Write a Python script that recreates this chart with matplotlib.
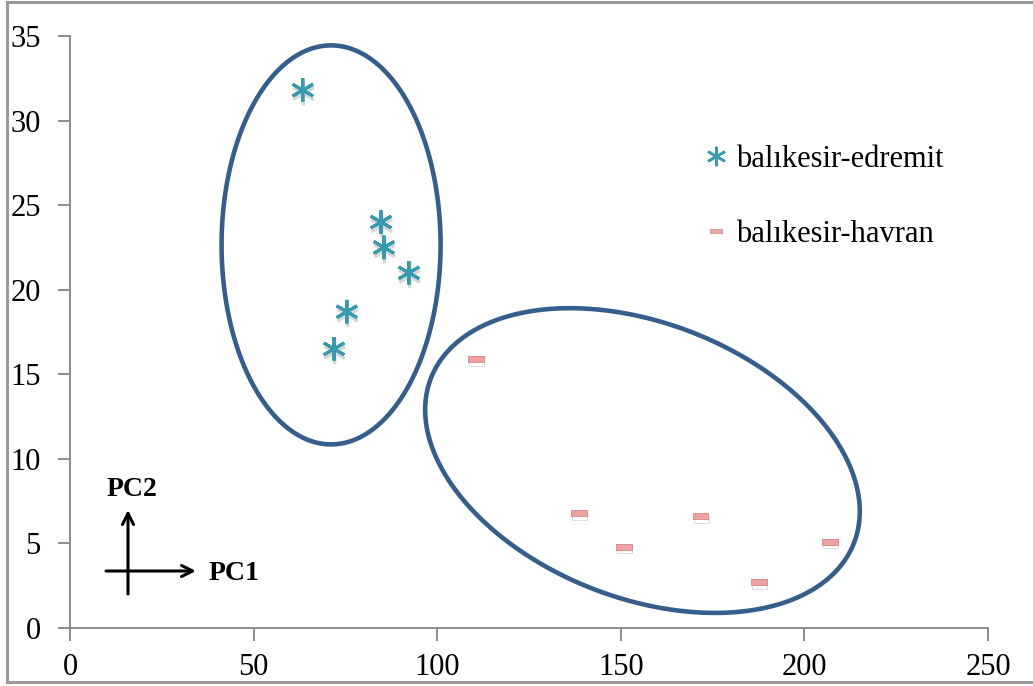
import matplotlib.pyplot as plt
import matplotlib.patheffects as pe
import numpy as np
from matplotlib.lines import Line2D
from matplotlib.patches import Polygon

plt.rcParams["font.family"] = ["Liberation Serif", "DejaVu Serif"]

# PCA scores
edremit_pc1 = [63.4, 84.7, 85.5, 92.3, 75.4, 71.9]
edremit_pc2 = [31.8, 24.0, 22.5, 21.0, 18.7, 16.5]
havran_pc1 = [110.6, 138.6, 150.9, 171.8, 187.6, 207.0]
havran_pc2 = [15.9, 6.8, 4.8, 6.6, 2.7, 5.1]

labels = ["balıkesir-edremit", "balıkesir-havran"]
xticks = [0, 50, 100, 150, 200, 250]
yticks = [0, 5, 10, 15, 20, 25, 30, 35]

EDREMIT_COLOR = "#3a9aad"
HAVRAN_FACE = "#eda3a2"
HAVRAN_EDGE = "#d98584"
RING_COLOR = "#365e8d"
AXIS_GRAY = "#8c8c8c"

# flat dash used for the havran group
dash = [(-1, -0.4), (1, -0.4), (1, 0.4), (-1, 0.4), (-1, -0.4)]
star = (6, 2, 0)
shadow = [pe.SimpleLineShadow(offset=(0.5, -2.5), shadow_color="gray",
                              alpha=0.3), pe.Normal()]

W, H = 1033, 686
fig = plt.figure(figsize=(W / 100, H / 100), dpi=100)
ax = fig.add_axes([70 / W, 1 - 628 / H, 918 / W, 592 / H])

ax.plot(edremit_pc1, edremit_pc2, linestyle="none", marker=star,
        markersize=17, markeredgewidth=2.2, color=EDREMIT_COLOR,
        path_effects=shadow)
ax.plot(havran_pc1, havran_pc2, linestyle="none", marker=dash,
        markersize=11, markerfacecolor=HAVRAN_FACE,
        markeredgecolor=HAVRAN_EDGE, markeredgewidth=0.6,
        path_effects=shadow)

ax.set_xlim(0, 250)
ax.set_ylim(0, 35)
ax.set_xticks(xticks)
ax.set_yticks(yticks)
ax.tick_params(axis="both", labelsize=22, color=AXIS_GRAY, length=9,
               width=1.4, direction="out")
ax.tick_params(axis="y", pad=12)
ax.tick_params(axis="x", pad=9)
for side in ("top", "right"):
    ax.spines[side].set_visible(False)
for side in ("left", "bottom"):
    ax.spines[side].set_color(AXIS_GRAY)
    ax.spines[side].set_linewidth(1.4)


def ring(center_data, a_px, b_px, angle_deg):
    """Ellipse drawn in screen pixels so it keeps its shape, mapped back to data."""
    cx, cy = ax.transData.transform(center_data)
    t = np.linspace(0, 2 * np.pi, 400, endpoint=False)
    th = np.deg2rad(angle_deg)
    px = cx + a_px * np.cos(t) * np.cos(th) - b_px * np.sin(t) * np.sin(th)
    py = cy + a_px * np.cos(t) * np.sin(th) + b_px * np.sin(t) * np.cos(th)
    pts = ax.transData.inverted().transform(np.column_stack([px, py]))
    ax.add_patch(Polygon(pts, closed=True, fill=False, edgecolor=RING_COLOR,
                         linewidth=3.3, clip_on=False))


ring((71.1, 22.65), 109.5, 199.5, 0)
ring((155.9, 9.9), 227, 137.5, -21.3)

handles = [
    Line2D([], [], linestyle="none", marker=star, markersize=14,
           markeredgewidth=1.8, color=EDREMIT_COLOR),
    Line2D([], [], linestyle="none", marker=dash, markersize=8,
           markerfacecolor=HAVRAN_FACE, markeredgecolor=HAVRAN_EDGE,
           markeredgewidth=0.5),
]
fig.legend(handles, labels, loc="upper left",
           bbox_to_anchor=(702 / W, 1 - 145 / H),
           frameon=False, fontsize=22, labelspacing=1.5, handlelength=0.9,
           handletextpad=0.2, borderpad=0, borderaxespad=0)

# PC1 / PC2 orientation key
ax.annotate("", xy=(196 / W, 1 - 571 / H), xytext=(106 / W, 1 - 571 / H),
            xycoords="figure fraction", textcoords="figure fraction",
            arrowprops=dict(arrowstyle="->", lw=2.2, color="black",
                            mutation_scale=20, shrinkA=0, shrinkB=0))
ax.annotate("", xy=(128 / W, 1 - 510 / H), xytext=(128 / W, 1 - 594 / H),
            xycoords="figure fraction", textcoords="figure fraction",
            arrowprops=dict(arrowstyle="->", lw=2.2, color="black",
                            mutation_scale=20, shrinkA=0, shrinkB=0))
fig.text(107 / W, 1 - 489 / H, "PC2", fontsize=20, fontweight="bold",
         va="center", ha="left")
fig.text(209 / W, 1 - 573 / H, "PC1", fontsize=20, fontweight="bold",
         va="center", ha="left")

# gray frame around the picture (open on the right, as in the source)
frame = dict(color="#9a9a9a", linewidth=2.2, transform=fig.transFigure)
fig.add_artist(Line2D([7 / W, 1], [1 - 2 / H, 1 - 2 / H], **frame))
fig.add_artist(Line2D([7 / W, 7 / W], [1 - 2 / H, 1 - 682 / H], **frame))
fig.add_artist(Line2D([7 / W, 1], [1 - 682 / H, 1 - 682 / H], **frame))

fig.savefig("out.png", dpi=100)
